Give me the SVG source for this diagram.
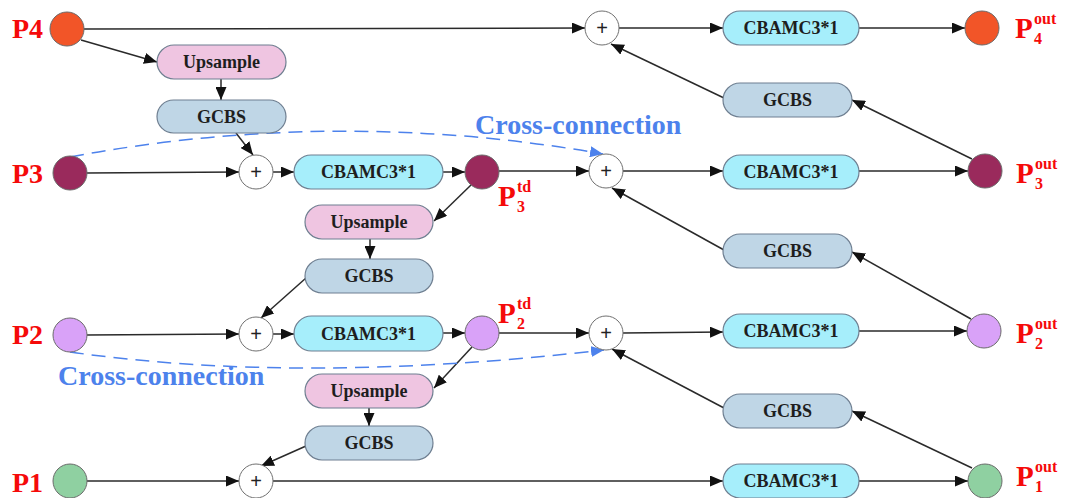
<svg xmlns="http://www.w3.org/2000/svg" width="1077" height="498" viewBox="0 0 1077 498">
<style>
.bg{fill:#ffffff}
.box{stroke:#6f7f91;stroke-width:1.2}
.ups{fill:#efc5e1}
.gcbs{fill:#bfd6e6}
.cbam{fill:#a6eefb}
.bt{font-family:"Liberation Serif",serif;font-weight:bold;font-size:18px;fill:#1e1e1e;text-anchor:middle}
.plus{fill:#ffffff;stroke:#707070;stroke-width:1}
.pt{font-family:"Liberation Sans",sans-serif;font-size:20px;fill:#222;text-anchor:middle}
.node{stroke:#6b6b6b;stroke-width:1}
.lbl{font-family:"Liberation Serif",serif;font-weight:bold;fill:#f50a0a}
.big{font-size:29px}
.sm{font-size:16px}
.cc{font-family:"Liberation Serif",serif;font-weight:bold;font-size:28px;fill:#4d82ec}
.edge{stroke:#2a2a2a;stroke-width:1.5;fill:none;marker-end:url(#ah)}
.dash{stroke:#4d82ec;stroke-width:1.5;fill:none;stroke-dasharray:14 8;marker-end:url(#bh)}
</style>
<defs>
<marker id="ah" markerUnits="userSpaceOnUse" markerWidth="13" markerHeight="11" refX="13" refY="5.5" orient="auto"><path d="M0,0 L13,5.5 L0,11 z" fill="#111"/></marker>
<marker id="bh" markerUnits="userSpaceOnUse" markerWidth="13" markerHeight="11" refX="13" refY="5.5" orient="auto"><path d="M0,0 L13,5.5 L0,11 z" fill="#4d82ec"/></marker>
</defs>
<rect class="bg" x="0" y="0" width="1077" height="498"/>

<g id="connectors">
<line class="edge" x1="84" y1="29" x2="585" y2="28"/>
<line class="edge" x1="81" y1="40" x2="157" y2="62"/>
<line class="edge" x1="221" y1="79" x2="221" y2="100"/>
<line class="edge" x1="236" y1="133" x2="253" y2="155"/>
<line class="edge" x1="87" y1="173" x2="239" y2="172"/>
<line class="edge" x1="273" y1="172" x2="294" y2="172"/>
<line class="edge" x1="443" y1="172" x2="465" y2="172"/>
<line class="edge" x1="499" y1="171" x2="589" y2="171"/>
<line class="edge" x1="623" y1="171" x2="723" y2="171"/>
<line class="edge" x1="859" y1="171" x2="968" y2="171"/>
<line class="edge" x1="471" y1="185" x2="434" y2="221"/>
<line class="edge" x1="370" y1="239" x2="370" y2="259"/>
<line class="edge" x1="306" y1="278" x2="261" y2="318"/>
<line class="edge" x1="87" y1="335" x2="239" y2="334"/>
<line class="edge" x1="273" y1="334" x2="294" y2="334"/>
<line class="edge" x1="443" y1="333" x2="465" y2="333"/>
<line class="edge" x1="499" y1="333" x2="589" y2="333"/>
<line class="edge" x1="623" y1="333" x2="723" y2="332"/>
<line class="edge" x1="859" y1="331" x2="967" y2="331"/>
<line class="edge" x1="472" y1="347" x2="434" y2="388"/>
<line class="edge" x1="369" y1="408" x2="369" y2="426"/>
<line class="edge" x1="306" y1="446" x2="261" y2="466"/>
<line class="edge" x1="87" y1="481" x2="239" y2="481"/>
<line class="edge" x1="273" y1="481" x2="723" y2="481"/>
<line class="edge" x1="859" y1="481" x2="968" y2="481"/>
<line class="edge" x1="972" y1="468" x2="852" y2="411"/>
<line class="edge" x1="724" y1="408" x2="612" y2="349"/>
<line class="edge" x1="971" y1="319" x2="852" y2="252"/>
<line class="edge" x1="724" y1="250" x2="612" y2="188"/>
<line class="edge" x1="972" y1="159" x2="852" y2="100"/>
<line class="edge" x1="724" y1="98" x2="611" y2="44"/>
<line class="edge" x1="619" y1="28" x2="723" y2="28"/>
<line class="edge" x1="859" y1="28" x2="965" y2="28"/>
<path class="dash" d="M70,157 Q336,107 603,154"/>
<path class="dash" d="M70,352 Q302,385 604,350"/>
</g>

<g id="cross-label-top"><text class="cc" x="475" y="134">Cross-connection</text></g>
<g id="cross-label-bottom"><text class="cc" x="58" y="385">Cross-connection</text></g>

<g id="P4"><circle class="node" cx="67" cy="29" r="17" fill="#f25528"/><text class="lbl" x="12" y="38" font-size="28">P4</text></g>
<g id="P3"><circle class="node" cx="70" cy="173" r="17" fill="#9a2a5c"/><text class="lbl" x="12" y="183" font-size="28">P3</text></g>
<g id="P2"><circle class="node" cx="70" cy="335" r="17" fill="#d9a2f8"/><text class="lbl" x="12" y="344" font-size="28">P2</text></g>
<g id="P1"><circle class="node" cx="70" cy="481" r="17" fill="#8fd0a1"/><text class="lbl" x="12" y="492" font-size="28">P1</text></g>

<g id="ups1"><rect class="box ups" x="157" y="45" width="129" height="34" rx="17"/><text class="bt" x="221.5" y="68">Upsample</text></g>
<g id="gcbs1"><rect class="box gcbs" x="157" y="100" width="129" height="33" rx="16.5"/><text class="bt" x="221.5" y="123">GCBS</text></g>
<g id="plus3L"><circle class="plus" cx="256" cy="172" r="17"/><text class="pt" x="256" y="179">+</text></g>
<g id="cbam3L"><rect class="box cbam" x="294" y="155" width="149" height="34" rx="17"/><text class="bt" x="368.5" y="178">CBAMC3*1</text></g>
<g id="P3td"><circle class="node" cx="482" cy="172" r="17" fill="#9a2a5c"/><text class="lbl big" x="498" y="206">P</text><text class="lbl sm" x="517" y="192">td</text><text class="lbl sm" x="517" y="212">3</text></g>

<g id="ups2"><rect class="box ups" x="305" y="205" width="128" height="34" rx="17"/><text class="bt" x="369" y="228">Upsample</text></g>
<g id="gcbs2"><rect class="box gcbs" x="305" y="259" width="128" height="34" rx="17"/><text class="bt" x="369" y="282">GCBS</text></g>
<g id="plus2L"><circle class="plus" cx="256" cy="334" r="17"/><text class="pt" x="256" y="341">+</text></g>
<g id="cbam2L"><rect class="box cbam" x="294" y="316" width="149" height="35" rx="17.5"/><text class="bt" x="368.5" y="340">CBAMC3*1</text></g>
<g id="P2td"><circle class="node" cx="482" cy="333" r="17" fill="#d9a2f8"/><text class="lbl big" x="498" y="323">P</text><text class="lbl sm" x="517" y="309">td</text><text class="lbl sm" x="517" y="329">2</text></g>

<g id="ups3"><rect class="box ups" x="305" y="374" width="128" height="34" rx="17"/><text class="bt" x="369" y="397">Upsample</text></g>
<g id="gcbs3"><rect class="box gcbs" x="305" y="426" width="128" height="34" rx="17"/><text class="bt" x="369" y="449">GCBS</text></g>
<g id="plus1"><circle class="plus" cx="256" cy="481" r="17"/><text class="pt" x="256" y="488">+</text></g>

<g id="plus4"><circle class="plus" cx="602" cy="28" r="17"/><text class="pt" x="602" y="35">+</text></g>
<g id="plus3R"><circle class="plus" cx="606" cy="171" r="17"/><text class="pt" x="606" y="178">+</text></g>
<g id="plus2R"><circle class="plus" cx="606" cy="333" r="17"/><text class="pt" x="606" y="340">+</text></g>

<g id="cbam4R"><rect class="box cbam" x="723" y="11" width="136" height="34" rx="17"/><text class="bt" x="791" y="34">CBAMC3*1</text></g>
<g id="gcbsR3"><rect class="box gcbs" x="723" y="83" width="129" height="34" rx="17"/><text class="bt" x="787.5" y="106">GCBS</text></g>
<g id="cbam3R"><rect class="box cbam" x="723" y="155" width="136" height="34" rx="17"/><text class="bt" x="791" y="178">CBAMC3*1</text></g>
<g id="gcbsR2"><rect class="box gcbs" x="723" y="234" width="129" height="34" rx="17"/><text class="bt" x="787.5" y="257">GCBS</text></g>
<g id="cbam2R"><rect class="box cbam" x="723" y="314" width="136" height="34" rx="17"/><text class="bt" x="791" y="337">CBAMC3*1</text></g>
<g id="gcbsR1"><rect class="box gcbs" x="723" y="394" width="129" height="34" rx="17"/><text class="bt" x="787.5" y="417">GCBS</text></g>
<g id="cbam1R"><rect class="box cbam" x="723" y="464" width="136" height="34" rx="17"/><text class="bt" x="791" y="487">CBAMC3*1</text></g>

<g id="P4out"><circle class="node" cx="982" cy="28" r="17" fill="#f25528"/><text class="lbl big" x="1015" y="38">P</text><text class="lbl sm" x="1034" y="24">out</text><text class="lbl sm" x="1034" y="44">4</text></g>
<g id="P3out"><circle class="node" cx="985" cy="171" r="17" fill="#9a2a5c"/><text class="lbl big" x="1016" y="183">P</text><text class="lbl sm" x="1035" y="169">out</text><text class="lbl sm" x="1035" y="189">3</text></g>
<g id="P2out"><circle class="node" cx="984" cy="331" r="17" fill="#d9a2f8"/><text class="lbl big" x="1016" y="343">P</text><text class="lbl sm" x="1035" y="329">out</text><text class="lbl sm" x="1035" y="349">2</text></g>
<g id="P1out"><circle class="node" cx="985" cy="481" r="17" fill="#8fd0a1"/><text class="lbl big" x="1016" y="486">P</text><text class="lbl sm" x="1035" y="472">out</text><text class="lbl sm" x="1035" y="492">1</text></g>
</svg>
